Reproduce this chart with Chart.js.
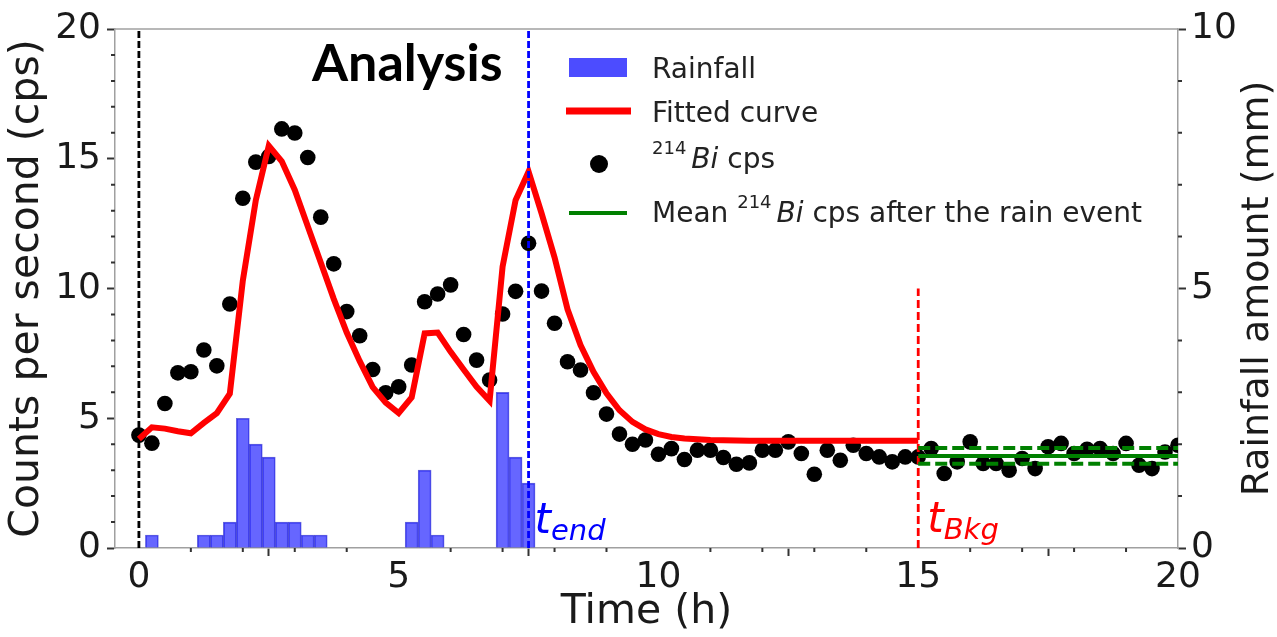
<!DOCTYPE html>
<html>
<head>
<meta charset="utf-8">
<script src="https://cdn.jsdelivr.net/npm/chart.js@4.4.0/dist/chart.umd.min.js"></script>
<style>
  html, body { margin: 0; padding: 0; background: #fff; }
  #wrap { width: 1277px; height: 637px; }
</style>
</head>
<body>
<div id="wrap"><canvas id="chart" width="1277" height="637"></canvas></div>
<script>
// 214Bi counts per second, one value every 15 min
const cpsTimes = [0, 0.25, 0.5, 0.75, 1, 1.25, 1.5, 1.75, 2, 2.25, 2.5, 2.75, 3, 3.25, 3.5, 3.75,
  4, 4.25, 4.5, 4.75, 5, 5.25, 5.5, 5.75, 6, 6.25, 6.5, 6.75, 7, 7.25, 7.5, 7.75,
  8, 8.25, 8.5, 8.75, 9, 9.25, 9.5, 9.75, 10, 10.25, 10.5, 10.75, 11, 11.25, 11.5, 11.75,
  12, 12.25, 12.5, 12.75, 13, 13.25, 13.5, 13.75, 14, 14.25, 14.5, 14.75, 15, 15.25, 15.5, 15.75,
  16, 16.25, 16.5, 16.75, 17, 17.25, 17.5, 17.75, 18, 18.25, 18.5, 18.75, 19, 19.25, 19.5, 19.75, 20];
const cpsValues = [4.35, 4.04, 5.57, 6.75, 6.79, 7.63, 7.02, 9.4, 13.48, 14.87, 15.09, 16.15, 15.99, 15.05, 12.75, 10.95,
  9.11, 8.18, 6.88, 5.98, 6.21, 7.05, 9.49, 9.79, 10.14, 8.23, 7.24, 6.47, 9.02, 9.89, 11.74, 9.9,
  8.66, 7.18, 6.86, 5.98, 5.16, 4.39, 4.0, 4.16, 3.61, 3.83, 3.41, 3.77, 3.77, 3.49, 3.23, 3.28,
  3.77, 3.77, 4.09, 3.64, 2.84, 3.77, 3.38, 3.96, 3.64, 3.51, 3.32, 3.51, 3.51, 3.83, 2.87, 3.32,
  4.09, 3.26, 3.26, 3.0, 3.45, 3.06, 3.9, 4.03, 3.64, 3.8, 3.83, 3.64, 4.03, 3.19, 3.06, 3.7, 3.96];

// fitted curve, 0 to 15 h
const fitTimes = [0, 0.25, 0.5, 0.75, 1, 1.25, 1.5, 1.75, 2, 2.25, 2.5, 2.75, 3, 3.25, 3.5, 3.75,
  4, 4.25, 4.5, 4.75, 5, 5.25, 5.5, 5.75, 6, 6.25, 6.5, 6.75, 7, 7.25, 7.5, 7.75,
  8, 8.25, 8.5, 8.75, 9, 9.25, 9.5, 9.75, 10, 10.25, 10.5, 10.75, 11, 11.25, 11.5, 11.75,
  12, 12.25, 12.5, 12.75, 13, 13.25, 13.5, 13.75, 14, 14.25, 14.5, 14.75, 15];
const fitValues = [4.2, 4.65, 4.6, 4.5, 4.42, 4.82, 5.2, 5.95, 10.3, 13.4, 15.5, 14.9, 13.8, 12.4, 11.0, 9.6,
  8.3, 7.2, 6.2, 5.6, 5.2, 5.8, 8.27, 8.3, 7.56, 6.88, 6.21, 5.67, 10.84, 13.4, 14.5, 12.9,
  11.2, 9.2, 7.82, 6.79, 5.96, 5.31, 4.86, 4.57, 4.39, 4.28, 4.22, 4.19, 4.16, 4.15, 4.14, 4.13,
  4.13, 4.13, 4.13, 4.13, 4.13, 4.13, 4.13, 4.13, 4.13, 4.13, 4.13, 4.13, 4.13];

// rainfall (mm per 15 min)
const rainTimes = [0.25, 1.25, 1.5, 1.75, 2, 2.25, 2.5, 2.75, 3, 3.25, 3.5, 5.25, 5.5, 5.75, 7, 7.25, 7.5];
const rainValues = [0.25, 0.25, 0.25, 0.5, 2.5, 2.0, 1.75, 0.5, 0.5, 0.25, 0.25, 0.5, 1.5, 0.25, 3.0, 1.75, 1.25];

// background after the rain event
const bkgTimes = [15, 20];
const bkgMean = 3.55;
const bkgLow = 3.25;
const bkgHigh = 3.85;

const tStart = 0;
const tEnd = 7.5;
const tBkg = 15;

const xTicks = [0, 5, 10, 15, 20];
const cpsTicks = [0, 5, 10, 15, 20];
const rainTicks = [0, 5, 10];

const pts = (xs, ys) => xs.map((x, i) => ({ x: x, y: ys[i] }));
const flat = (xs, v) => xs.map(x => ({ x: x, y: v }));

const FONT = 'DejaVu Sans';
const INK = '#1a1a1a';

const decor = {
  id: 'decor',
  afterDraw(chart) {
    const ctx = chart.ctx;
    const a = chart.chartArea;
    const x = chart.scales.x, y = chart.scales.y, y2 = chart.scales.y2;
    ctx.save();

    // top spine
    ctx.strokeStyle = '#a0a0a0';
    ctx.lineWidth = 1.5;
    ctx.beginPath();
    ctx.moveTo(a.left, a.top);
    ctx.lineTo(a.right, a.top);
    ctx.stroke();

    // minor ticks
    ctx.strokeStyle = '#333';
    ctx.lineWidth = 2;
    ctx.beginPath();
    for (let v = 1; v < 20; v++) {
      if (v % 5 === 0) continue;
      const px = x.getPixelForValue(v);
      ctx.moveTo(px, a.bottom); ctx.lineTo(px, a.bottom + 4);
      const py = y.getPixelForValue(v);
      ctx.moveTo(a.left, py); ctx.lineTo(a.left - 4, py);
    }
    for (let v = 1; v < 10; v++) {
      if (v % 5 === 0) continue;
      const py = y2.getPixelForValue(v);
      ctx.moveTo(a.right, py); ctx.lineTo(a.right + 4, py);
    }
    ctx.stroke();

    // right axis title (reads bottom to top)
    ctx.fillStyle = INK;
    ctx.font = '38px "' + FONT + '"';
    ctx.textAlign = 'center';
    ctx.textBaseline = 'middle';
    ctx.save();
    ctx.translate(1258, (a.top + a.bottom) / 2);
    ctx.rotate(-Math.PI / 2);
    ctx.fillText('Rainfall amount (mm)', 0, 0);
    ctx.restore();

    // "Analysis"
    ctx.textAlign = 'left';
    ctx.textBaseline = 'alphabetic';
    ctx.fillStyle = '#000';
    ctx.font = 'bold 52px Lato';
    ctx.fillText('Analysis', 312, 81);

    // t_end and t_Bkg
    const sub = (main, low, color, px, base) => {
      ctx.fillStyle = color;
      ctx.font = 'italic 42px "' + FONT + '"';
      ctx.fillText(main, px, base);
      const w = ctx.measureText(main).width;
      ctx.font = 'italic 29px "' + FONT + '"';
      ctx.fillText(low, px + w, base + 7);
    };
    sub('t', 'end', '#0000ff', x.getPixelForValue(tEnd) + 6, 533);
    sub('t', 'Bkg', '#ff0000', x.getPixelForValue(tBkg) + 9, 532);

    // legend
    const lx = 652;
    ctx.fillStyle = 'rgba(0,0,255,0.7)';
    ctx.fillRect(569, 58, 58, 19);
    ctx.strokeStyle = 'red';
    ctx.lineWidth = 7;
    ctx.beginPath(); ctx.moveTo(566, 111); ctx.lineTo(631, 111); ctx.stroke();
    ctx.fillStyle = '#000';
    ctx.beginPath(); ctx.arc(599, 164, 9, 0, Math.PI * 2); ctx.fill();
    ctx.strokeStyle = 'green';
    ctx.lineWidth = 4;
    ctx.beginPath(); ctx.moveTo(569, 213); ctx.lineTo(627, 213); ctx.stroke();

    ctx.fillStyle = '#222';
    ctx.textBaseline = 'alphabetic';
    const run = (parts, px, base) => {
      for (const p of parts) {
        ctx.font = p[1];
        ctx.fillText(p[0], px, base + (p[2] || 0));
        px += ctx.measureText(p[0]).width + (p[3] || 0);
      }
    };
    const reg = '28px "' + FONT + '"';
    const ita = 'italic 28px "' + FONT + '"';
    const sup = '18px "' + FONT + '"';
    run([['Rainfall', reg]], lx, 78);
    run([['Fitted curve', reg]], lx, 122);
    run([['214', sup, -14, 5], ['Bi', ita], [' cps', reg]], lx, 168);
    run([['Mean ', reg], ['214', sup, -14, 5], ['Bi', ita], [' cps after the rain event', reg]], lx, 222);

    ctx.restore();
  }
};

const tickFont = { family: FONT, size: 36 };
const titleFont = { family: FONT, size: 41 };

new Chart(document.getElementById('chart'), {
  type: 'line',
  data: {
    datasets: [
      {
        type: 'bar', label: 'Rainfall', data: pts(rainTimes, rainValues), yAxisID: 'y2',
        backgroundColor: 'rgba(0,0,255,0.6)', borderColor: 'rgba(0,0,200,0.6)', borderWidth: 1,
        categoryPercentage: 1, barPercentage: 1, order: 10
      },
      {
        type: 'scatter', label: '214Bi cps', data: pts(cpsTimes, cpsValues), yAxisID: 'y',
        backgroundColor: '#000', borderWidth: 0, pointRadius: 7.8, order: 6
      },
      {
        type: 'line', label: 'Fitted curve', data: pts(fitTimes, fitValues), yAxisID: 'y',
        borderColor: 'red', borderWidth: 6, pointRadius: 0, tension: 0, order: 5
      },
      {
        type: 'line', data: [{ x: tStart, y: 0 }, { x: tStart, y: 20 }], yAxisID: 'y',
        borderColor: '#000', borderWidth: 2.8, borderDash: [7, 3], pointRadius: 0, order: 7
      },
      {
        type: 'line', data: [{ x: tEnd, y: 0 }, { x: tEnd, y: 20 }], yAxisID: 'y',
        borderColor: '#0000ff', borderWidth: 2.8, borderDash: [7, 3], pointRadius: 0, order: 4
      },
      {
        type: 'line', data: [{ x: tBkg, y: 0 }, { x: tBkg, y: 10 }], yAxisID: 'y',
        borderColor: '#ff0000', borderWidth: 2.8, borderDash: [8, 4], pointRadius: 0, order: 4
      },
      {
        type: 'line', label: 'Mean 214Bi cps after the rain event', data: flat(bkgTimes, bkgMean), yAxisID: 'y',
        borderColor: 'green', borderWidth: 4, pointRadius: 0, order: 2
      },
      {
        type: 'line', data: flat(bkgTimes, bkgHigh), yAxisID: 'y',
        borderColor: 'green', borderWidth: 4, borderDash: [12, 5], pointRadius: 0, order: 1
      },
      {
        type: 'line', data: flat(bkgTimes, bkgLow), yAxisID: 'y',
        borderColor: 'green', borderWidth: 4, borderDash: [12, 5], pointRadius: 0, order: 1
      }
    ]
  },
  options: {
    responsive: false,
    animation: false,
    devicePixelRatio: 1,
    layout: { padding: { top: 29, left: 0, right: 0, bottom: 0 } },
    plugins: { legend: { display: false }, tooltip: { enabled: false } },
    scales: {
      x: {
        type: 'linear', min: -0.46, max: 20, offset: false,
        afterBuildTicks: s => { s.ticks = xTicks.map(v => ({ value: v })); },
        afterFit: s => { s.height = 89; },
        grid: { drawOnChartArea: false, drawTicks: true, tickLength: 8, tickWidth: 2, tickColor: '#333' },
        border: { color: '#a0a0a0', width: 1.5 },
        ticks: { font: tickFont, color: INK, padding: 0, maxRotation: 0, autoSkip: false },
        title: { display: true, text: 'Time (h)', font: titleFont, color: INK, padding: { top: 0, bottom: 0 } }
      },
      y: {
        type: 'linear', position: 'left', min: 0, max: 20,
        afterBuildTicks: s => { s.ticks = cpsTicks.map(v => ({ value: v })); },
        afterFit: s => { s.width = 115; },
        grid: { drawOnChartArea: false, drawTicks: true, tickLength: 8, tickWidth: 2, tickColor: '#333' },
        border: { color: '#a0a0a0', width: 1.5 },
        ticks: { font: tickFont, color: INK, padding: 6 },
        title: { display: true, text: 'Counts per second (cps)', font: titleFont, color: INK, padding: { top: 3, bottom: 0 } }
      },
      y2: {
        type: 'linear', position: 'right', min: 0, max: 10,
        afterBuildTicks: s => { s.ticks = rainTicks.map(v => ({ value: v })); },
        afterFit: s => { s.width = 99; },
        grid: { drawOnChartArea: false, drawTicks: true, tickLength: 8, tickWidth: 2, tickColor: '#333' },
        border: { color: '#a0a0a0', width: 1.5 },
        ticks: { font: tickFont, color: INK, padding: 5 }
      }
    }
  },
  plugins: [decor]
});
</script>
</body>
</html>
